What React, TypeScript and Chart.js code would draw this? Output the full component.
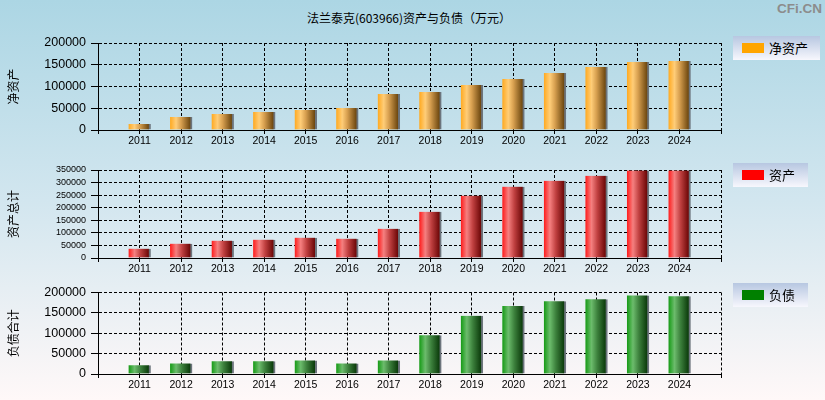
import React, { useEffect, useRef } from 'react';
import { Chart, registerables } from 'chart.js';

Chart.register(...registerables);

const title = '法兰泰克(603966)资产与负债（万元）';
const years = [2011, 2012, 2013, 2014, 2015, 2016, 2017, 2018, 2019, 2020, 2021, 2022, 2023, 2024];
const netAssets = [14000, 30000, 36800, 41400, 46000, 50600, 82800, 87400, 103400, 117000, 131000, 144800, 156300, 158600];
const totalAssets = [37000, 57000, 69000, 73000, 81000, 77000, 116500, 184000, 248000, 283600, 307000, 327000, 348000, 348000];
const liabilities = [21400, 26000, 31000, 31000, 33300, 26000, 33300, 95000, 143000, 166700, 178600, 183300, 192900, 190500];

const NUM_FONT = '"Liberation Sans", Arial, sans-serif';
const CJK_FONT = '"Noto Sans CJK SC", "Noto Sans", sans-serif';

type Stop = [number, string];

const orangeStops: Stop[] = [[0, '#FFA91F'], [0.3, '#FFCD78'], [0.55, '#D8A050'], [1, '#6E4810']];
const redStops: Stop[] = [[0, '#FF1A1A'], [0.3, '#F58080'], [0.6, '#C04040'], [1, '#6E0808']];
const greenStops: Stop[] = [[0, '#149A14'], [0.3, '#6CBC6C'], [0.6, '#3C803C'], [1, '#0C3C0C']];

function barGradient(stops: Stop[]) {
  return (ctx: any) => {
    const chart = ctx.chart;
    if (!chart.chartArea || ctx.type !== 'data' || !ctx.parsed) return stops[0][1];
    const px = chart.scales.x.getPixelForValue(ctx.parsed.x);
    const g = chart.ctx.createLinearGradient(px - 11, 0, px + 9, 0);
    stops.forEach(([o, c]) => g.addColorStop(o, c));
    return g;
  };
}

interface PanelProps {
  top: number;
  height: number;
  padTop: number;
  xHeight: number;
  values: number[];
  yMax: number;
  yTitle: string;
  tickSize: number;
  stops: Stop[];
  label: string;
}

function Panel({ top, height, padTop, xHeight, values, yMax, yTitle, tickSize, stops, label }: PanelProps) {
  const ref = useRef<HTMLCanvasElement>(null);
  useEffect(() => {
    if (!ref.current) return;
    const chart = new Chart(ref.current, {
      type: 'bar',
      data: {
        datasets: [
          {
            label,
            data: years.map((y, i) => ({ x: y, y: values[i] })),
            backgroundColor: barGradient(stops),
            borderColor: '#6C747C',
            borderWidth: { left: 0, top: 0, bottom: 0, right: 2 },
            borderSkipped: false,
            barThickness: 22,
          } as any,
        ],
      },
      options: {
        responsive: false,
        animation: false,
        layout: { padding: { top: padTop, right: 104, left: 0, bottom: 0 } },
        plugins: { legend: { display: false }, tooltip: { enabled: false }, title: { display: false } },
        scales: {
          x: {
            type: 'linear',
            min: 2010,
            max: 2025,
            offset: false,
            afterFit: (s: any) => { s.height = xHeight; },
            ticks: {
              stepSize: 1,
              autoSkip: false,
              maxRotation: 0,
              padding: 1,
              color: '#000',
              font: { family: NUM_FONT, size: 10.5 },
              callback: (v: any) => (years.includes(Number(v)) ? String(v) : ''),
            },
            grid: { offset: false, color: '#000', lineWidth: 1, drawTicks: true, tickLength: 4, tickColor: '#000' },
            border: { display: true, color: '#000', width: 1, dash: [3, 2] },
          },
          y: {
            min: 0,
            max: yMax,
            afterFit: (s: any) => { s.width = 98; },
            ticks: {
              stepSize: 50000,
              autoSkip: false,
              padding: 5,
              color: '#000',
              font: { family: NUM_FONT, size: tickSize },
              callback: (v: any) => String(v),
            },
            grid: { color: '#000', lineWidth: 1, drawTicks: true, tickLength: 7, tickColor: '#000' },
            border: { display: true, color: '#000', width: 1, dash: [3, 2] },
            title: {
              display: true,
              text: yTitle,
              color: '#000',
              font: { family: CJK_FONT, size: 12 },
              padding: { top: 6, bottom: 0 },
            },
          },
        },
      } as any,
    });
    return () => chart.destroy();
  }, []);
  return (
    <div style={{ position: 'absolute', left: 0, top, width: 825, height }}>
      <canvas ref={ref} width={825} height={height} style={{ display: 'block', width: 825, height }} />
    </div>
  );
}

function Legend({ top, width, color, text }: { top: number; width: number; color: string; text: string }) {
  return (
    <div
      style={{
        position: 'absolute',
        left: 733,
        top,
        width,
        height: 24,
        background: 'linear-gradient(to bottom, #B7C7E1, #F7F7FD)',
        fontFamily: CJK_FONT,
        fontSize: 13,
        color: '#000',
      }}
    >
      <div style={{ position: 'absolute', left: 9, top: 7, width: 22, height: 10, background: color }} />
      <div style={{ position: 'absolute', left: 36, top: 3, lineHeight: '17px', whiteSpace: 'nowrap' }}>{text}</div>
    </div>
  );
}

export default function App() {
  return (
    <div
      style={{
        position: 'absolute',
        left: 0,
        top: 0,
        width: 825,
        height: 400,
        overflow: 'hidden',
        background: 'linear-gradient(to bottom, #ACD6E4 0%, #D2E6EF 50%, #FFF8F8 100%)',
      }}
    >
      <div
        style={{
          position: 'absolute',
          left: 0,
          width: 818,
          top: 10,
          textAlign: 'center',
          fontFamily: CJK_FONT,
          fontSize: 12,
          lineHeight: '16px',
          color: '#000',
          whiteSpace: 'nowrap',
        }}
      >
        {title}
      </div>
      <div
        style={{
          position: 'absolute',
          right: 3,
          top: 1,
          fontFamily: NUM_FONT,
          fontWeight: 'bold',
          fontSize: 13.5,
          lineHeight: '16px',
          color: '#8C8C8C',
        }}
      >
        CFi.CN
      </div>
      <Panel top={0} height={152} padTop={43} xHeight={22} values={netAssets} yMax={200000} yTitle="净资产" tickSize={12.5} stops={orangeStops} label="净资产" />
      <Panel top={152} height={128} padTop={18} xHeight={22} values={totalAssets} yMax={350000} yTitle="资产总计" tickSize={9} stops={redStops} label="资产" />
      <Panel top={280} height={120} padTop={10} xHeight={26} values={liabilities} yMax={200000} yTitle="负债合计" tickSize={12.5} stops={greenStops} label="负债" />
      <Legend top={36} width={87} color="#FFA500" text="净资产" />
      <Legend top={163} width={75} color="#FF0000" text="资产" />
      <Legend top={283} width={75} color="#008000" text="负债" />
    </div>
  );
}
